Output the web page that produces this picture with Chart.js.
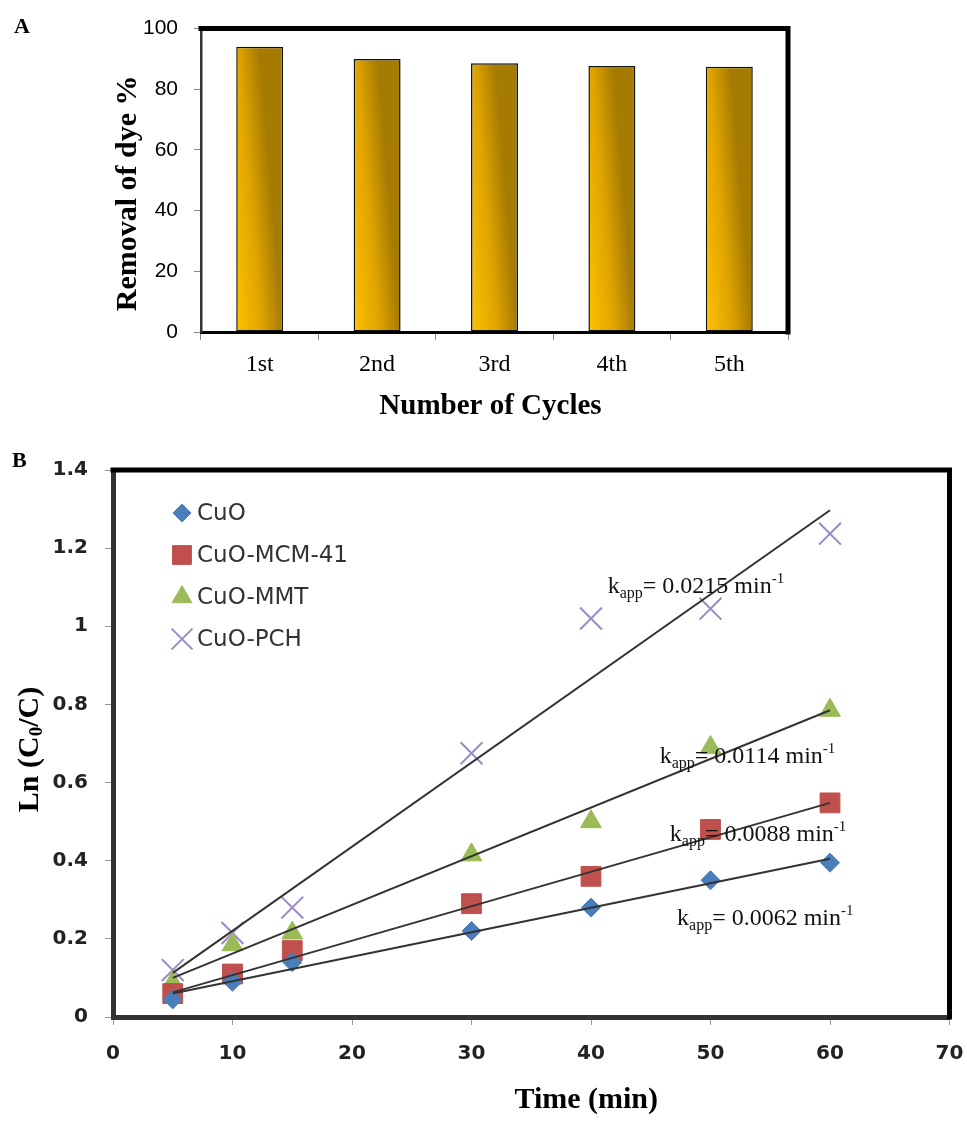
<!DOCTYPE html>
<html>
<head>
<meta charset="utf-8">
<script src="https://cdn.jsdelivr.net/npm/chart.js@4.4.1/dist/chart.umd.min.js"></script>
<style>
  html, body { margin: 0; padding: 0; background: #fff; }
  #wrapA { position: absolute; left: 0; top: 0; width: 967px; height: 440px; }
  #wrapB { position: absolute; left: 0; top: 440px; width: 967px; height: 683px; }
</style>
</head>
<body>
<div id="wrapA"><canvas id="chartA" width="967" height="440"></canvas></div>
<div id="wrapB"><canvas id="chartB" width="967" height="683"></canvas></div>
<script>
(() => {
  // panel A data
  const cycles = ['1st', '2nd', '3rd', '4th', '5th'];
  const removal = [94, 90, 88.6, 87.7, 87.4];

  // panel B data
  const timeMin = [5, 10, 15, 30, 40, 50, 60];
  const lnCuO = [0.045, 0.09, 0.14, 0.22, 0.28, 0.35, 0.395];
  const lnMCM = [0.06, 0.11, 0.17, 0.29, 0.36, 0.48, 0.548];
  const lnMMT = [0.088, 0.185, 0.215, 0.415, 0.5, 0.69, 0.785];
  const lnPCH = [0.12, 0.215, 0.28, 0.675, 1.02, 1.045, 1.237];
  // fitted lines, read at both ends
  const fitX = [5, 60];
  const fitCuO = [0.06, 0.405];
  const fitMCM = [0.063, 0.548];
  const fitMMT = [0.1, 0.785];
  const fitPCH = [0.113, 1.297];
  const kValues = ['0.0215', '0.0114', '0.0088', '0.0062'];

  const SERIF = '"Liberation Serif", "Times New Roman", serif';
  const SANS = '"DejaVu Sans", Verdana, sans-serif';

  // draw text made of runs (normal / sub / sup), returns width
  function drawRuns(ctx, runs, x, y, measureOnly) {
    let cx = x;
    runs.forEach(([t, size, dy, bold]) => {
      ctx.font = (bold ? 'bold ' : '') + size + 'px ' + SERIF;
      if (!measureOnly) ctx.fillText(t, cx, y + dy);
      cx += ctx.measureText(t).width;
    });
    return cx - x;
  }

  // x title centred at (cx, cy), y title rotated at (yx, cy2)
  function drawTitles(chart, o) {
    const { ctx, chartArea: a } = chart;
    ctx.save();
    ctx.fillStyle = '#000';
    ctx.textBaseline = 'middle';
    ctx.textAlign = 'left';
    const wx = drawRuns(ctx, o.x, 0, 0, true);
    drawRuns(ctx, o.x, (a.left + a.right) / 2 + o.xShift - wx / 2, o.xY);
    const wy = drawRuns(ctx, o.y, 0, 0, true);
    ctx.translate(o.yX, (a.top + a.bottom) / 2 + o.yShift);
    ctx.rotate(-Math.PI / 2);
    drawRuns(ctx, o.y, -wy / 2, 0);
    ctx.restore();
  }

  // thick black top + right frame
  const framePlugin = {
    id: 'frame',
    beforeDatasetsDraw(chart, args, opts) {
      const { ctx, chartArea: a } = chart;
      ctx.save();
      ctx.strokeStyle = '#000';
      ctx.lineWidth = opts.width;
      ctx.lineCap = 'square';
      ctx.beginPath();
      ctx.moveTo(a.left, a.top);
      ctx.lineTo(a.right, a.top);
      ctx.lineTo(a.right, a.bottom);
      ctx.stroke();
      ctx.restore();
    }
  };

  // panel letter
  const letterPlugin = {
    id: 'letter',
    afterDraw(chart, args, opts) {
      const ctx = chart.ctx;
      ctx.save();
      ctx.fillStyle = '#000';
      ctx.font = 'bold 22px ' + SERIF;
      ctx.textBaseline = 'middle';
      ctx.fillText(opts.text, opts.x, opts.y);
      ctx.restore();
    }
  };

  const titlesPlugin = {
    id: 'titles',
    afterDraw(chart, args, opts) { drawTitles(chart, opts); }
  };

  // ---------- A : bar chart ----------
  function barFill(c) {
    const chart = c.chart;
    const x = chart.scales.x;
    if (!x || !chart.chartArea || c.dataIndex === undefined) return '#E2A600';
    const mid = x.getPixelForValue(c.dataIndex);
    const half = x.width / cycles.length * 0.4 / 2;
    const yb = chart.chartArea.bottom;
    const g = chart.ctx.createLinearGradient(mid - half, yb, mid + half, yb - 4);
    g.addColorStop(0, '#FDC300');
    g.addColorStop(0.55, '#E0A400');
    g.addColorStop(1, '#A67B02');
    return g;
  }

  new Chart(document.getElementById('chartA'), {
    type: 'bar',
    data: {
      labels: cycles,
      datasets: [{
        data: removal,
        backgroundColor: barFill,
        borderColor: '#111',
        borderWidth: 1.5,
        borderSkipped: false,
        categoryPercentage: 0.4,
        barPercentage: 1
      }]
    },
    options: {
      responsive: false,
      animation: false,
      devicePixelRatio: 1,
      layout: { padding: { left: 0, right: 179, top: 22, bottom: 0 } },
      plugins: {
        legend: { display: false },
        tooltip: { enabled: false },
        frame: { width: 5 },
        letter: { text: 'A', x: 14, y: 27 },
        titles: {
          x: [['Number of Cycles', 29, 0, true]], xShift: -4, xY: 407,
          y: [['Removal of dye %', 30, 0, true]], yX: 128, yShift: 13
        }
      },
      scales: {
        x: {
          afterFit: s => { s.height = 108; },
          grid: { display: true, drawOnChartArea: false, tickLength: 8, color: '#888', lineWidth: 1 },
          border: { display: true, color: '#000', width: 3 },
          ticks: { color: '#000', padding: 10, font: { family: SERIF, size: 24 } }
        },
        y: {
          min: 0,
          max: 100,
          afterFit: s => { s.width = 201; },
          grid: { display: true, drawOnChartArea: false, tickLength: 7, color: '#888', lineWidth: 1 },
          border: { display: true, color: '#333', width: 2.5 },
          ticks: { stepSize: 20, color: '#000', padding: 16, font: { family: '"Liberation Sans", Arial, sans-serif', size: 21 } }
        }
      }
    },
    plugins: [framePlugin, letterPlugin, titlesPlugin]
  });

  // ---------- B : kinetics ----------
  const pts = ys => timeMin.map((t, i) => ({ x: t, y: ys[i] }));
  const fit = ys => fitX.map((t, i) => ({ x: t, y: ys[i] }));

  const legendB = {
    id: 'legendB',
    afterDatasetsDraw(chart) {
      const { ctx, chartArea: a } = chart;
      const x0 = a.left + 69, y0 = a.top + 43, step = 42;
      chart.data.datasets.slice(0, 4).forEach((d, i) => {
        const y = y0 + i * step;
        ctx.save();
        ctx.fillStyle = d.backgroundColor;
        ctx.strokeStyle = d.borderColor;
        ctx.lineWidth = d.borderWidth;
        Chart.helpers.drawPoint(ctx, { pointStyle: d.pointStyle, radius: d.pointRadius * 0.95, rotation: 0, borderWidth: d.borderWidth }, x0, y);
        ctx.fillStyle = '#333';
        ctx.font = '23px ' + SANS;
        ctx.textBaseline = 'middle';
        ctx.textAlign = 'left';
        ctx.fillText(d.label, x0 + 15, y + 1);
        ctx.restore();
      });
    }
  };

  // k_app labels, anchored in data units
  const kAnchors = [[41.4, 1.084], [45.75, 0.65], [46.6, 0.45], [47.2, 0.235]];
  const kPlugin = {
    id: 'kLabels',
    afterDatasetsDraw(chart) {
      const { ctx, scales: { x, y } } = chart;
      ctx.save();
      ctx.fillStyle = '#111';
      ctx.textBaseline = 'alphabetic';
      ctx.textAlign = 'left';
      kValues.forEach((k, i) => {
        const [vx, vy] = kAnchors[i];
        drawRuns(ctx, [['k', 24, 0], ['app', 16, 5], ['= ' + k + ' min', 24, 0], ['-1', 15, -10]],
          x.getPixelForValue(vx), y.getPixelForValue(vy));
      });
      ctx.restore();
    }
  };

  const lineSet = (ys) => ({
    type: 'line',
    data: fit(ys),
    borderColor: '#333',
    borderWidth: 2,
    pointRadius: 0,
    fill: false,
    order: 0
  });

  const tickFontB = { family: SANS, size: 20, weight: 'bold' };

  new Chart(document.getElementById('chartB'), {
    type: 'scatter',
    data: {
      datasets: [
        { label: 'CuO', data: pts(lnCuO), pointStyle: 'rectRot', pointRadius: 9.5, backgroundColor: '#4A7EBB', borderColor: '#4A7EBB', borderWidth: 1, order: 1 },
        { label: 'CuO-MCM-41', data: pts(lnMCM), pointStyle: 'rect', pointRadius: 14, backgroundColor: '#C0504D', borderColor: '#C0504D', borderWidth: 1, order: 1 },
        { label: 'CuO-MMT', data: pts(lnMMT), pointStyle: 'triangle', pointRadius: 12, backgroundColor: '#9BBB59', borderColor: '#9BBB59', borderWidth: 1, order: 1 },
        { label: 'CuO-PCH', data: pts(lnPCH), pointStyle: 'crossRot', pointRadius: 15.5, backgroundColor: '#9C89C9', borderColor: '#9C89C9', borderWidth: 2, order: 1 },
        lineSet(fitCuO),
        lineSet(fitMCM),
        lineSet(fitMMT),
        lineSet(fitPCH)
      ]
    },
    options: {
      responsive: false,
      animation: false,
      devicePixelRatio: 1,
      layout: { padding: { left: 0, right: 15, top: 30, bottom: 0 } },
      plugins: {
        legend: { display: false },
        tooltip: { enabled: false },
        frame: { width: 5 },
        letter: { text: 'B', x: 12, y: 21 },
        titles: {
          x: [['Time (min)', 30, 0, true]], xShift: 55, xY: 660,
          y: [['Ln (C', 30, 0, true], ['0', 19, 7, true], ['/C)', 30, 0, true]], yX: 30, yShift: 6
        }
      },
      scales: {
        x: {
          type: 'linear',
          min: 0,
          max: 70,
          afterFit: s => { s.height = 106; s.paddingLeft = 0; s.paddingRight = 0; },
          grid: { display: true, drawOnChartArea: false, tickLength: 8, color: '#999', lineWidth: 1 },
          border: { display: true, color: '#333', width: 5 },
          ticks: { stepSize: 10, color: '#222', padding: 17, font: tickFontB }
        },
        y: {
          min: 0,
          max: 1.4,
          afterFit: s => { s.width = 113; },
          grid: { display: true, drawOnChartArea: false, tickLength: 8, color: '#999', lineWidth: 1 },
          border: { display: true, color: '#333', width: 5 },
          ticks: { stepSize: 0.2, color: '#222', padding: 17, font: tickFontB,
            callback: v => String(+v.toFixed(1)) }
        }
      }
    },
    plugins: [framePlugin, letterPlugin, legendB, kPlugin, titlesPlugin]
  });
})();
</script>
</body>
</html>
